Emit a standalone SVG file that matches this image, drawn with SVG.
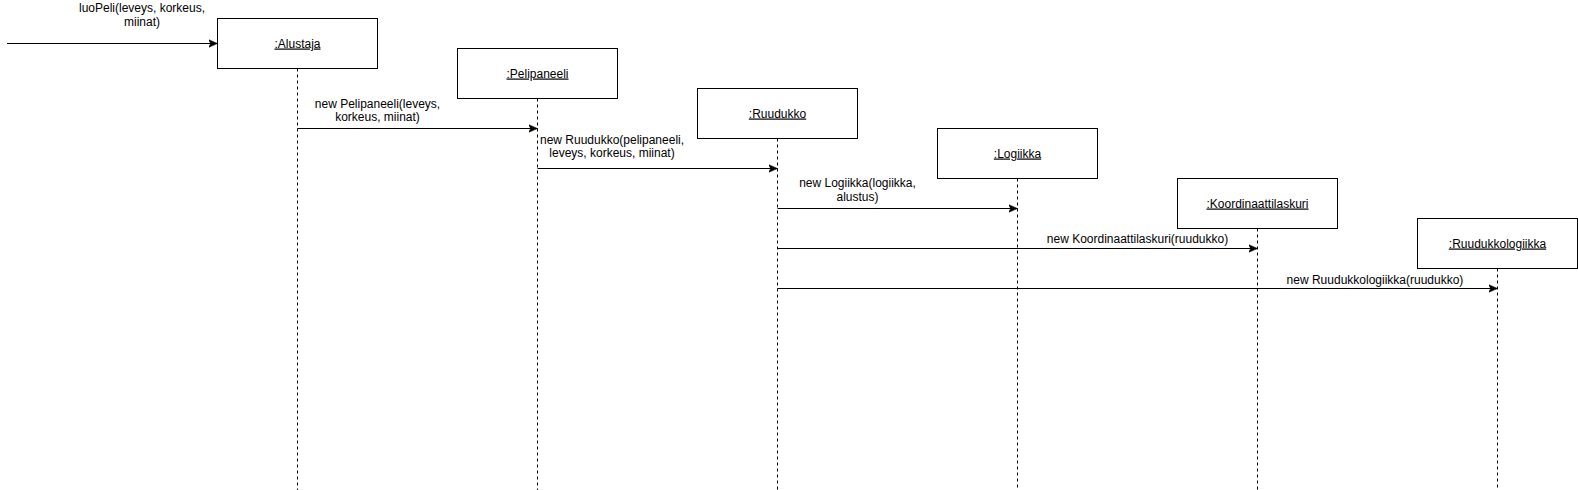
<svg xmlns="http://www.w3.org/2000/svg" width="1578" height="490" viewBox="0 0 1578 490">
<style>
.box{fill:#fff;stroke:#000;stroke-width:1}
.life{stroke:#000;stroke-width:1;stroke-dasharray:3 3;fill:none}
.msg{stroke:#000;stroke-width:1;fill:none;marker-end:url(#arr)}
text{font-family:"Liberation Sans",Arial,sans-serif;font-size:12px;fill:#000;text-anchor:middle}
.name{text-decoration:underline}
</style>
<defs>
<marker id="arr" markerUnits="userSpaceOnUse" markerWidth="12" markerHeight="12" refX="9" refY="4.5" orient="auto" viewBox="0 0 12 9">
<path d="M0,0.5 L9,4.5 L0,8.5 L2.2,4.5 Z" fill="#000" stroke="#000" stroke-width="0.5"/>
</marker>
</defs>
<g id="lifelines">
<path class="life" d="M297.5,68.5 V490"/>
<path class="life" d="M537.5,98.5 V490"/>
<path class="life" d="M777.5,138.5 V490"/>
<path class="life" d="M1017.5,178.5 V490"/>
<path class="life" d="M1257.5,228.5 V490"/>
<path class="life" d="M1497.5,268.5 V490"/>
</g>
<g id="alustaja">
<rect class="box" x="217.5" y="18.5" width="160" height="50"/>
<text class="name" x="297.5" y="47.5">:Alustaja</text>
</g>
<g id="pelipaneeli">
<rect class="box" x="457.5" y="48.5" width="160" height="50"/>
<text class="name" x="537.5" y="77.5">:Pelipaneeli</text>
</g>
<g id="ruudukko">
<rect class="box" x="697.5" y="88.5" width="160" height="50"/>
<text class="name" x="777.5" y="117.5">:Ruudukko</text>
</g>
<g id="logiikka">
<rect class="box" x="937.5" y="128.5" width="160" height="50"/>
<text class="name" x="1017.5" y="157.5">:Logiikka</text>
</g>
<g id="koordinaattilaskuri">
<rect class="box" x="1177.5" y="178.5" width="160" height="50"/>
<text class="name" x="1257.5" y="207.5">:Koordinaattilaskuri</text>
</g>
<g id="ruudukkologiikka">
<rect class="box" x="1417.5" y="218.5" width="160" height="50"/>
<text class="name" x="1497.5" y="247.5">:Ruudukkologiikka</text>
</g>
<g id="connectors">
<path class="msg" d="M7,43.5 H217.5"/>
<text x="142" y="11.5">luoPeli(leveys, korkeus,</text>
<text x="142" y="25.5">miinat)</text>
<path class="msg" d="M297.5,128.5 H537.5"/>
<text x="377.5" y="107.5">new Pelipaneeli(leveys,</text>
<text x="377.5" y="121">korkeus, miinat)</text>
<path class="msg" d="M537.5,168.5 H777.5"/>
<text x="612" y="143.5">new Ruudukko(pelipaneeli,</text>
<text x="612" y="157">leveys, korkeus, miinat)</text>
<path class="msg" d="M777.5,208.5 H1017.5"/>
<text x="857.5" y="186.5">new Logiikka(logiikka,</text>
<text x="857.5" y="200.5">alustus)</text>
<path class="msg" d="M777.5,248.5 H1257.5"/>
<text x="1137.5" y="242.5">new Koordinaattilaskuri(ruudukko)</text>
<path class="msg" d="M777.5,288.5 H1497.5"/>
<text x="1375" y="283.5">new Ruudukkologiikka(ruudukko)</text>
</g>
</svg>
